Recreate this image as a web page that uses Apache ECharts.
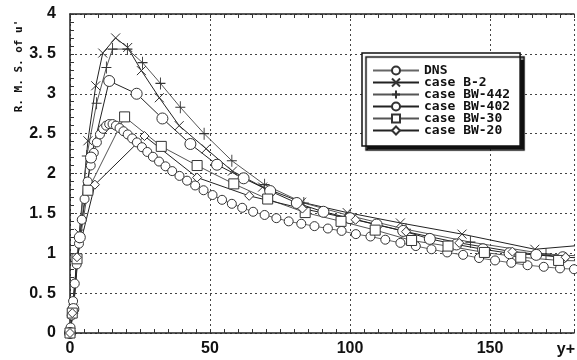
<!DOCTYPE html>
<html>
<head>
<meta charset="utf-8">
<script src="https://cdn.jsdelivr.net/npm/echarts@6/dist/echarts.min.js"></script>
<style>
    html, body {margin: 0; background: #fff;}
    #chart {width: 577px; height: 360px;}
</style>
</head>
<body>
<div id="chart"></div>
<script>
    // 数据
    const dnsY = [0.2, 0.6, 1.1, 1.7, 2.4, 3.2, 4.2, 5.2, 6.3, 7.4, 8.5, 9.6, 10.7, 11.8, 12.9, 14.0, 15.2, 16.4, 17.7, 19.1,
        20.6, 22.2, 23.9, 25.7, 27.6, 29.6, 31.8, 34.1, 36.5, 39.1, 41.8, 44.7, 47.7, 50.9, 54.3, 57.8, 61.5, 65.4, 69.5, 73.7,
        78.1, 82.6, 87.3, 92.1, 97.0, 102.1, 107.3, 112.6, 118.0, 123.5, 129.1, 134.7, 140.4, 146.1, 151.8, 157.6, 163.4, 169.2, 175.0, 180];
    const dnsU = [0.07, 0.22, 0.4, 0.62, 0.86, 1.12, 1.42, 1.68, 1.9, 2.1, 2.26, 2.39, 2.49, 2.56, 2.6, 2.62, 2.62, 2.6, 2.57, 2.53,
        2.49, 2.44, 2.39, 2.33, 2.27, 2.21, 2.15, 2.09, 2.03, 1.97, 1.91, 1.85, 1.79, 1.73, 1.67, 1.62, 1.57, 1.52, 1.48, 1.44,
        1.40, 1.37, 1.34, 1.31, 1.28, 1.24, 1.21, 1.17, 1.13, 1.09, 1.05, 1.01, 0.98, 0.94, 0.91, 0.88, 0.85, 0.83, 0.81, 0.80];

    const b2Y = [0, 1.2, 3.3, 6.4, 9.2, 11.7, 16.3, 20.6, 25.5, 31.9, 39, 48.6, 58, 68.8, 82.7, 99, 118, 140, 166, 196];
    const b2U = [0, 0.3, 1.25, 2.41, 3.1, 3.51, 3.7, 3.58, 3.29, 2.95, 2.6, 2.31, 2.03, 1.83, 1.64, 1.51, 1.38, 1.24, 1.05, 1.14];

    const bw442Y = [0, 1.2, 3.3, 6, 9.5, 13, 15.2, 20.5, 25.9, 32.3, 39.4, 47.9, 57.8, 69.5, 83.5, 100, 120, 143, 170, 200];
    const bw442U = [0, 0.28, 1.2, 2.22, 2.88, 3.33, 3.56, 3.56, 3.39, 3.13, 2.83, 2.5, 2.16, 1.86, 1.63, 1.47, 1.3, 1.14, 0.99, 0.93];

    const bw402Y = [0, 1.2, 3.5, 7.5, 14, 23.8, 33, 43, 52.5, 62, 71.5, 81, 90.5, 100, 109.5, 119, 128.5, 138, 147.5, 157, 166.5, 176];
    const bw402U = [0, 0.3, 1.2, 2.2, 3.16, 3.0, 2.69, 2.37, 2.11, 1.94, 1.78, 1.63, 1.52, 1.44, 1.36, 1.28, 1.18, 1.11, 1.05, 1.0, 0.98, 0.95];

    const bw30Y = [0, 0.8, 2.5, 6.4, 19.5, 32.6, 45.4, 58.5, 70.6, 84, 96.8, 109, 122, 135, 148, 161, 174.5, 188];
    const bw30U = [0, 0.25, 0.93, 1.79, 2.71, 2.34, 2.1, 1.87, 1.68, 1.51, 1.40, 1.29, 1.16, 1.09, 1.01, 0.95, 0.91, 0.9];

    const bw20Y = [0, 0.8, 2.5, 8.9, 26.6, 45.4, 64, 83, 102, 120, 139, 158, 177, 196];
    const bw20U = [0, 0.25, 0.95, 1.86, 2.47, 1.95, 1.72, 1.56, 1.42, 1.27, 1.13, 1.02, 0.95, 0.92];

    const seriesNames = ['DNS', 'case B-2', 'case BW-442', 'case BW-402', 'case BW-30', 'case BW-20'];
    const xTickLabels = [0, 50, 100, 150];
    const yTickLabels = [0, 0.5, 1, 1.5, 2, 2.5, 3, 3.5, 4];

    const zip = (xs, ys) => xs.map((x, i) => [x, ys[i]]);

    const crossPath = 'path://M0,0L10,10M0,10L10,0';
    const plusPath = 'path://M5,0L5,12M0,6L10,6';

    const labelFont = {fontFamily: '"Liberation Sans Narrow", "Liberation Sans", sans-serif', fontWeight: 'bold', fontSize: 16, color: '#111'};

    const chart = echarts.init(document.getElementById('chart'));

    const makeSeries = (name, data, symbol, size, lineColor) => ({
        name: name,
        type: 'line',
        data: data,
        symbol: symbol,
        symbolSize: size,
        showSymbol: true,
        xAxisIndex: 0,
        yAxisIndex: 0,
        lineStyle: {color: lineColor, width: 1},
        itemStyle: {color: '#fff', borderColor: '#333', borderWidth: 1},
        emphasis: {disabled: true}
    });

    chart.setOption({
        animation: false,
        backgroundColor: '#fff',
        grid: {left: 70, top: 14, right: 0, bottom: 27},
        xAxis: [
            {
                type: 'value', min: 0, max: 180, interval: 5, position: 'bottom',
                axisLine: {lineStyle: {color: '#222', width: 1.5}},
                axisTick: {inside: true, length: 4, lineStyle: {color: '#333'}},
                axisLabel: {show: false},
                splitLine: {show: false}
            },
            {
                type: 'value', min: 0, max: 180, interval: 50, position: 'bottom',
                axisLine: {show: false},
                axisTick: {show: false},
                axisLabel: Object.assign({
                    margin: 8,
                    formatter: v => xTickLabels.includes(v) ? String(v) : ''
                }, labelFont),
                splitLine: {show: true, lineStyle: {color: '#444', type: [2, 3], width: 1}}
            },
            {
                type: 'value', min: 0, max: 180, interval: 5, position: 'top',
                axisLine: {lineStyle: {color: '#222', width: 1.5}},
                axisTick: {inside: true, length: 4, lineStyle: {color: '#333'}},
                axisLabel: {show: false},
                splitLine: {show: false}
            }
        ],
        yAxis: [
            {
                type: 'value', min: 0, max: 4, interval: 0.1, position: 'left',
                axisLine: {lineStyle: {color: '#222', width: 1.5}},
                axisTick: {inside: true, length: 4, lineStyle: {color: '#333'}},
                axisLabel: {show: false},
                splitLine: {show: false}
            },
            {
                type: 'value', min: 0, max: 4, interval: 0.5, position: 'left',
                axisLine: {show: false},
                axisTick: {show: false},
                axisLabel: Object.assign({
                    margin: 14,
                    formatter: v => yTickLabels.includes(v) ? String(v).replace('.', '. ') : ''
                }, labelFont),
                splitLine: {show: true, lineStyle: {color: '#444', type: [2, 3], width: 1}}
            }
        ],
        legend: {
            left: 362, top: 53,
            orient: 'vertical',
            itemWidth: 46, itemHeight: 10, itemGap: -1,
            padding: [11, 10, 9, 10],
            backgroundColor: '#fff',
            borderColor: '#111', borderWidth: 1.5,
            shadowColor: '#111', shadowOffsetX: 4, shadowOffsetY: 4, shadowBlur: 1,
            textStyle: {fontFamily: '"DejaVu Sans Mono", monospace', fontWeight: 'bold', fontSize: 13, color: '#111'},
            data: seriesNames
        },
        graphic: [
            {
                type: 'text', x: 19, y: 66, rotation: Math.PI / 2,
                style: {text: "R. M. S. of u'", font: 'bold 11px "DejaVu Sans Mono", monospace', fill: '#111', align: 'center', verticalAlign: 'middle'}
            },
            {
                type: 'text', x: 575, y: 350,
                style: {text: 'y+', font: labelFont.fontWeight + ' 16px ' + labelFont.fontFamily, fill: '#111', align: 'right', verticalAlign: 'middle'}
            }
        ],
        series: [
            makeSeries(seriesNames[0], zip(dnsY, dnsU), 'circle', 9, '#666'),
            makeSeries(seriesNames[1], zip(b2Y, b2U), crossPath, 9, '#222'),
            makeSeries(seriesNames[2], zip(bw442Y, bw442U), plusPath, [10, 12], '#555'),
            makeSeries(seriesNames[3], zip(bw402Y, bw402U), 'circle', 11, '#222'),
            makeSeries(seriesNames[4], zip(bw30Y, bw30U), 'rect', 10, '#555'),
            makeSeries(seriesNames[5], zip(bw20Y, bw20U), 'diamond', 9, '#222')
        ]
    });
</script>
</body>
</html>
